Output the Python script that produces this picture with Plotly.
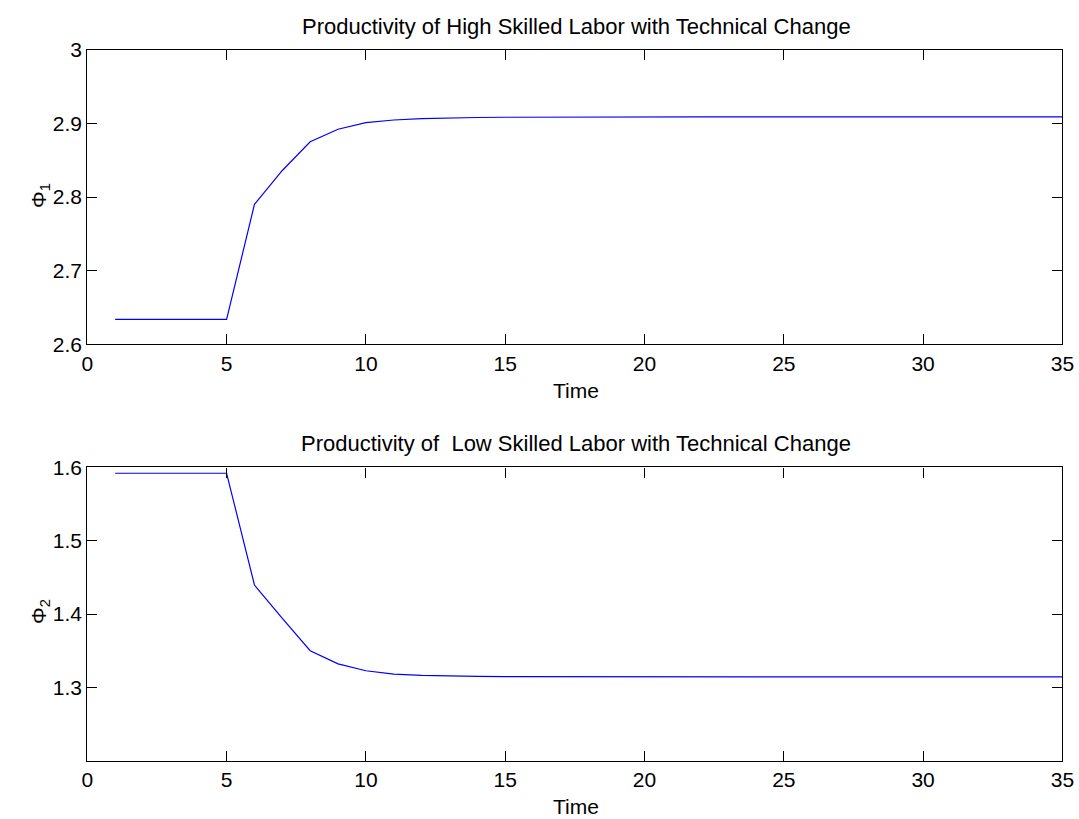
import plotly.graph_objects as go

time = list(range(1, 36))
phi1 = [2.634, 2.634, 2.634, 2.634, 2.634, 2.790, 2.836, 2.875, 2.892, 2.901,
        2.9045, 2.9063, 2.9074, 2.9079, 2.9082, 2.9084, 2.9085, 2.9086, 2.9086, 2.9087,
        2.9087, 2.9087, 2.9087, 2.9087, 2.9087, 2.9087, 2.9087, 2.9087, 2.9087, 2.9087,
        2.9087, 2.9087, 2.9087, 2.9087, 2.9087]
phi2 = [1.592, 1.592, 1.592, 1.592, 1.592, 1.4396, 1.394, 1.350, 1.332, 1.3227,
        1.318, 1.3164, 1.3154, 1.3149, 1.3146, 1.3145, 1.3144, 1.3144, 1.3144, 1.3144,
        1.3144, 1.3144, 1.3144, 1.3144, 1.3144, 1.3144, 1.3144, 1.3144, 1.3144, 1.3144,
        1.3144, 1.3144, 1.3144, 1.3144, 1.3144]

x_ticks = [0, 5, 10, 15, 20, 25, 30, 35]
y1_ticks = [2.6, 2.7, 2.8, 2.9, 3.0]
y1_labels = ["2.6", "2.7", "2.8", "2.9", "3"]
y2_ticks = [1.3, 1.4, 1.5, 1.6]
y2_labels = ["1.3", "1.4", "1.5", "1.6"]

titles = ["Productivity of High Skilled Labor with Technical Change",
          "Productivity of \u00a0Low Skilled Labor with Technical Change"]
ylabels = ["\u03a6<sub>1</sub>", "\u03a6<sub>2</sub>"]

W, H = 1079, 819
FONT = "Liberation Sans, Arial, Helvetica, sans-serif"
FS = 21
FS_TITLE = 22

fig = go.Figure()
fig.add_trace(go.Scatter(x=time, y=phi1, mode="lines", line=dict(color="#0000ff", width=1.2),
                         xaxis="x", yaxis="y", showlegend=False))
fig.add_trace(go.Scatter(x=time, y=phi2, mode="lines", line=dict(color="#0000ff", width=1.2),
                         xaxis="x2", yaxis="y2", showlegend=False))

xdom = [87.3 / W, 1062.4 / W]
ydom1 = [1 - 344.4 / H, 1 - 49.6 / H]
ydom2 = [1 - 760.7 / H, 1 - 467.4 / H]

axis_common = dict(showgrid=False, zeroline=False, showline=True, linecolor="black", linewidth=1.3,
                   mirror="ticks", ticks="inside", ticklen=10, tickcolor="black", tickwidth=1,
                   automargin=False,
                   tickfont=dict(family=FONT, size=FS, color="black"))

fig.update_layout(
    width=W, height=H,
    margin=dict(l=0, r=0, t=0, b=0, autoexpand=False),
    paper_bgcolor="white", plot_bgcolor="white",
    font=dict(family=FONT, size=FS, color="black"),
    xaxis=dict(domain=xdom, anchor="y", range=[0, 35], tickvals=x_ticks, **axis_common),
    yaxis=dict(domain=ydom1, anchor="x", range=[2.6, 3.0], tickvals=y1_ticks, ticktext=y1_labels, **axis_common),
    xaxis2=dict(domain=xdom, anchor="y2", range=[0, 35], tickvals=x_ticks, **axis_common),
    yaxis2=dict(domain=ydom2, anchor="x2", range=[1.2, 1.6], tickvals=y2_ticks, ticktext=y2_labels, **axis_common),
)

ann = []
for title, yc in zip(titles, [27, 444]):
    ann.append(dict(text=title, x=576 / W, y=1 - yc / H, xref="paper", yref="paper",
                    showarrow=False, xanchor="center", yanchor="middle",
                    font=dict(family=FONT, size=FS_TITLE, color="black")))
for yc in [390, 806]:
    ann.append(dict(text="Time", x=576 / W, y=1 - yc / H, xref="paper", yref="paper",
                    showarrow=False, xanchor="center", yanchor="middle",
                    font=dict(family=FONT, size=FS, color="black")))
for lab, yc in zip(ylabels, [196, 612]):
    ann.append(dict(text=lab, x=40 / W, y=1 - yc / H, xref="paper", yref="paper",
                    showarrow=False, xanchor="center", yanchor="middle", textangle=-90,
                    font=dict(family=FONT, size=FS, color="black")))
fig.update_layout(annotations=ann)

fig.write_html("out.html", config={"displayModeBar": False},
               post_script="document.body.style.margin='0';document.body.style.overflow='hidden';")
